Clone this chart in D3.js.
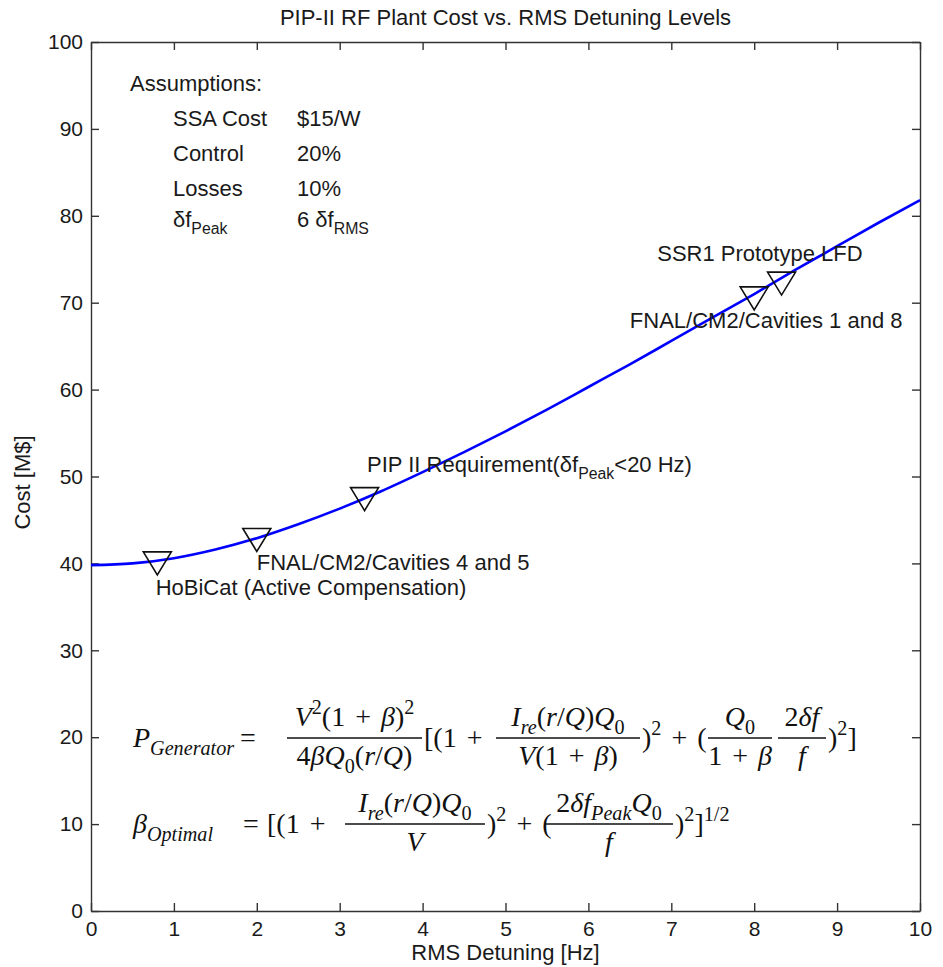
<!DOCTYPE html>
<html>
<head>
<meta charset="utf-8">
<script src="https://cdn.jsdelivr.net/npm/d3@7"></script>
<style>
body { margin: 0; background: #fff; }
text { font-family: Arial, "Liberation Sans", sans-serif; fill: #1a1a1a; white-space: pre; }
.math text { font-family: "Liberation Serif", "DejaVu Serif", serif; fill: #111; word-spacing: 3px; }
</style>
</head>
<body>
<svg id="chart"></svg>
<script>
// RF plant cost curve
var detuning = [0, 0.5, 1, 1.5, 2, 2.5, 3, 3.5, 4, 4.5, 5, 5.5, 6, 6.5, 7, 7.5, 8, 8.5, 9, 9.5, 10];
var cost = [39.8, 40.0, 40.6, 41.6, 42.9, 44.5, 46.3, 48.3, 50.5, 52.8, 55.2, 57.7, 60.3, 62.9, 65.6, 68.3, 71.0, 73.8, 76.5, 79.2, 81.8];

// measured detuning levels
var pointNames = ["HoBiCat (Active Compensation)", "FNAL/CM2/Cavities 4 and 5",
                  "PIP II Requirement(δf_{Peak}<20 Hz)", "FNAL/CM2/Cavities 1 and 8", "SSR1 Prototype LFD"];
var pointX = [0.8, 2.0, 3.3, 8.0, 8.33];
var pointY = [40.0, 42.7, 47.4, 70.5, 72.2];
// where each label sits (data units, like matlab text())
var labelX = [0.78, 2.0, 3.33, 6.5, 6.83];
var labelY = [36.4, 39.2, 50.5, 67.1, 74.8];

var xTicks = d3.range(0, 11, 1);
var yTicks = d3.range(0, 101, 10);

var assumptionNames = ["SSA Cost", "Control", "Losses", "δf_{Peak}"];
var assumptionValues = ["$15/W", "20%", "10%", "6 δf_{RMS}"];

var width = 943, height = 967;
var margin = {top: 42, right: 23, bottom: 56, left: 91};

var svg = d3.select('#chart')
    .attr('width', width)
    .attr('height', height);

svg.append('rect').attr('width', width).attr('height', height).attr('fill', '#fff');

var x = d3.scaleLinear().domain([0, 10]).range([margin.left, width - margin.right]);
var y = d3.scaleLinear().domain([0, 100]).range([height - margin.bottom, margin.top]);

// text with _{sub} and ^{sup}, letters italic in math mode
function richText(sel, str, size, mathMode) {
    var re = /([_^])\{([^}]*)\}|[^_^]+/g, m, shift = 0;
    while ((m = re.exec(str)) !== null) {
        var kind = m[1] || '';
        var body = kind ? m[2] : m[0];
        var target = kind === '_' ? size * 0.3 : (kind === '^' ? -size * 0.42 : 0);
        var fs = kind ? size * 0.72 : size;
        var runs = mathMode ? body.match(/[A-Za-zα-ω]+|[^A-Za-zα-ω]+/g) : [body];
        runs.forEach(function(r, i) {
            var t = sel.append('tspan').attr('font-size', fs).text(r);
            if (i === 0) t.attr('dy', target - shift);
            if (mathMode && /[A-Za-zα-ω]/.test(r)) t.attr('font-style', 'italic');
        });
        shift = target;
    }
    return sel;
}

// axes, matlab style: inward ticks on all four sides
var axisColor = '#333';

svg.append('g')
    .attr('transform', 'translate(0,' + y(0) + ')')
    .call(d3.axisBottom(x).tickValues(xTicks).tickSizeInner(-8).tickSizeOuter(0).tickPadding(10));
svg.append('g')
    .attr('transform', 'translate(0,' + y(100) + ')')
    .call(d3.axisTop(x).tickValues(xTicks).tickSizeInner(-8).tickSizeOuter(0).tickFormat(''));
svg.append('g')
    .attr('transform', 'translate(' + x(0) + ',0)')
    .call(d3.axisLeft(y).tickValues(yTicks).tickSizeInner(-8).tickSizeOuter(0).tickPadding(8));
svg.append('g')
    .attr('transform', 'translate(' + x(10) + ',0)')
    .call(d3.axisRight(y).tickValues(yTicks).tickSizeInner(-8).tickSizeOuter(0).tickFormat(''));

svg.selectAll('.domain, .tick line').attr('stroke', axisColor).attr('stroke-width', 1.4);
svg.selectAll('.tick text').attr('font-size', 21).attr('font-family', 'Arial, "Liberation Sans", sans-serif').attr('fill', '#1a1a1a');

// titles
svg.append('text')
    .attr('x', (x(0) + x(10)) / 2).attr('y', 25)
    .attr('text-anchor', 'middle').attr('font-size', 22)
    .text('PIP-II RF Plant Cost vs. RMS Detuning Levels');

svg.append('text')
    .attr('x', (x(0) + x(10)) / 2).attr('y', 960)
    .attr('text-anchor', 'middle').attr('font-size', 22)
    .text('RMS Detuning [Hz]');

svg.append('text')
    .attr('transform', 'translate(30,' + ((y(0) + y(100)) / 2 + 6) + ') rotate(-90)')
    .attr('text-anchor', 'middle').attr('font-size', 22)
    .text('Cost [M$]');

// cost curve
var line = d3.line()
    .x(function(d, i) { return x(detuning[i]); })
    .y(function(d) { return y(d); })
    .curve(d3.curveMonotoneX);

svg.append('path')
    .datum(cost)
    .attr('d', line)
    .attr('fill', 'none')
    .attr('stroke', '#0000ff')
    .attr('stroke-width', 2.6);

// downward triangles
var tri = 'M-14,-11.5L14,-11.5L0,11.5Z';
svg.selectAll('path.marker')
    .data(pointX)
    .enter()
    .append('path')
    .attr('class', 'marker')
    .attr('d', tri)
    .attr('transform', function(d, i) { return 'translate(' + x(d) + ',' + y(pointY[i]) + ')'; })
    .attr('fill', 'none')
    .attr('stroke', '#111')
    .attr('stroke-width', 1.6);

svg.selectAll('text.label')
    .data(pointNames)
    .enter()
    .append('text')
    .attr('class', 'label')
    .attr('x', function(d, i) { return x(labelX[i]); })
    .attr('y', function(d, i) { return y(labelY[i]); })
    .attr('font-size', 22)
    .each(function(d) { richText(d3.select(this), d, 22, false); });

// assumptions box
svg.append('text').attr('x', 130).attr('y', 91).attr('font-size', 22).text('Assumptions:');
assumptionNames.forEach(function(name, i) {
    var rowY = [126, 161, 196, 227][i];
    richText(svg.append('text').attr('x', 173).attr('y', rowY).attr('font-size', 22), name, 22, false);
    richText(svg.append('text').attr('x', 297).attr('y', rowY).attr('font-size', 22), assumptionValues[i], 22, false);
});

// formulas
var math = svg.append('g').attr('class', 'math');
var fs = 28;

function mtext(px, py, str, anchor) {
    return richText(math.append('text').attr('x', px).attr('y', py).attr('text-anchor', anchor || 'start'), str, fs, true);
}
function frac(x1, x2, yBar, num, den) {
    math.append('line')
        .attr('x1', x1).attr('x2', x2).attr('y1', yBar).attr('y2', yBar)
        .attr('stroke', '#111').attr('stroke-width', 1.3);
    mtext((x1 + x2) / 2, yBar - 12, num, 'middle');
    mtext((x1 + x2) / 2, yBar + 27, den, 'middle');
}

// P_Generator
var b1 = 747, bar1 = 738;
mtext(133, b1, 'P_{Generator}');
mtext(240, b1, '=');
frac(287, 422, bar1, 'V^{2}(1 + β)^{2}', '4βQ_{0}(r/Q)');
mtext(424, b1, '[(1 +');
frac(496, 640, bar1, 'I_{re}(r/Q)Q_{0}', 'V(1 + β)');
mtext(642, b1, ')^{2} + (');
frac(708, 772, bar1, 'Q_{0}', '1 + β');
frac(778, 826, bar1, '2δf', 'f');
mtext(828, b1, ')^{2}]');

// beta_Optimal
var b2 = 833, bar2 = 824;
mtext(133, b2, 'β_{Optimal}');
mtext(243, b2, '=');
mtext(267, b2, '[(1 +');
frac(345, 485, bar2, 'I_{re}(r/Q)Q_{0}', 'V');
mtext(487, b2, ')^{2} + (');
frac(545, 673, bar2, '2δf_{Peak}Q_{0}', 'f');
mtext(675, b2, ')^{2}]^{1/2}');
</script>
</body>
</html>
